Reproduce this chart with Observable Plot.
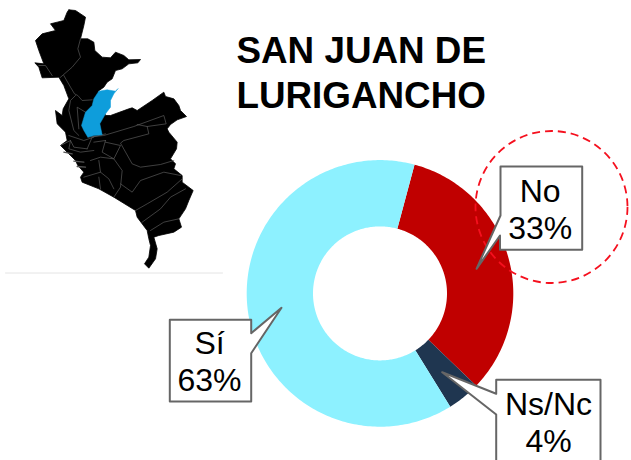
<!DOCTYPE html>
<html><head><meta charset="utf-8">
<script src="https://cdn.jsdelivr.net/npm/d3@7"></script>
<script src="https://cdn.jsdelivr.net/npm/@observablehq/plot@0.6"></script>
<style>
html,body{margin:0;padding:0;background:#fff;overflow:hidden}
svg{display:block}
.soft{filter:blur(.6px)}
</style></head><body><div id="c"></div>
<script>
const categories = ["No","Ns/Nc","Sí"];
const percents = [33,4,63];
const sliceColors = ["#C00000","#1F3650","#8DF1FF"];
const startAngle = 15;
const titleLines = ["SAN JUAN DE","LURIGANCHO"];

// Callout boxes and labels (page pixels)
const labelLines = [["No","33%"],["Ns/Nc","4%"],["Sí","63%"]];
const calloutShapes = [
  [[500,166],[581.7,166],[581.7,249.3],[499.5,249.3],[499.5,235],[476,268.3],[500,215]],
  [[495.7,379.3],[600,379.3],[600,470],[495.7,470],[495.7,414],[441.7,371.7],[495.7,393.3]],
  [[169.3,319.3],[250.7,319.3],[250.7,332.7],[281,307.3],[250.7,352.7],[250.7,401],[169.3,401]]
];
const labelPos = [[539.7,201,238.3],[548,414,451],[209,353,390]];

// Map of Lima region (zoomed 3x coordinates)
const mapOutline = [[205,28],[225,30],[255,50],[250,75],[240,115],[262,115],[280,125],[283,150],[305,170],[330,172],[345,155],[370,165],[385,178],[420,177],[412,187],[385,190],[365,205],[345,210],[335,235],[320,245],[310,260],[293,272],[315,345],[330,345],[385,325],[395,322],[410,330],[455,300],[490,275],[495,288],[520,295],[535,315],[540,330],[558,348],[530,358],[510,372],[500,385],[505,395],[530,425],[528,445],[510,475],[525,490],[520,505],[545,525],[545,545],[578,570],[565,600],[555,625],[535,655],[543,680],[520,695],[475,705],[460,710],[470,745],[465,775],[445,803],[432,790],[445,770],[450,735],[445,715],[440,690],[410,650],[405,630],[340,590],[295,565],[245,545],[240,530],[250,515],[232,495],[225,480],[200,455],[180,435],[200,420],[195,395],[170,370],[165,330],[185,345],[188,325],[205,295],[190,255],[175,230],[125,232],[115,200],[103,187],[130,190],[115,150],[105,120],[125,100],[165,90],[150,70],[170,65],[190,60],[200,35]];
const mapHighlight = [[352,265],[345,272],[320,268],[295,272],[280,295],[275,315],[255,335],[243,375],[250,390],[262,410],[280,405],[305,403],[298,370],[315,340],[330,320],[330,300],[340,280]];
const mapBorders = [
 [[240,115],[232,145],[240,170],[215,200],[178,232]],
 [[190,225],[210,260],[222,280],[232,285],[245,300],[275,298]],
 [[115,195],[135,195],[155,225]],
 [[225,285],[210,300],[205,330],[220,390],[235,405]],
 [[255,335],[230,320],[235,385]],
 [[262,410],[310,405],[400,378],[490,345],[497,370],[440,378],[410,372]],
 [[440,378],[445,400],[370,420],[360,428],[395,490],[420,500],[480,492],[520,480]],
 [[205,405],[250,420],[280,410]],
 [[180,435],[210,420],[220,440],[260,445]],
 [[210,420],[205,445],[240,455],[280,450]],
 [[260,445],[275,410],[315,400]],
 [[280,425],[315,420]],
 [[315,420],[305,455],[340,475],[360,435],[315,425]],
 [[270,480],[300,470],[340,475],[365,510],[360,560],[340,590]],
 [[250,530],[300,515],[325,535],[340,565]],
 [[300,515],[295,480]],
 [[295,530],[300,565]],
 [[360,550],[395,575],[420,540],[490,515],[540,525]],
 [[405,630],[440,610],[500,575],[545,535]],
 [[425,665],[480,625],[510,590],[555,565]],
 [[450,690],[490,665],[535,655]]
];
const mapCoastMarks = [
 [[190,455],[215,460]],
 [[220,482],[250,485]],
 [[230,498],[255,500]]
];

const cx = 380, cy = 293.4, rOuter = 133.3, rInner = 67;
const toPage = ([x,y]) => ({x:x/3,y:y/3});

let cum = 0;
const ring = [];
percents.forEach((p,i)=>{
  const a0 = startAngle + cum*3.6, a1 = startAngle + (cum+p)*3.6;
  const n = Math.ceil(a1-a0);
  for(let k=0;k<=n;k++){
    const a = (a0+(a1-a0)*k/n)*Math.PI/180;
    ring.push({cat:categories[i],
      x1:cx+rInner*Math.sin(a),y1:cy-rInner*Math.cos(a),
      x2:cx+rOuter*Math.sin(a),y2:cy-rOuter*Math.cos(a)});
  }
  cum += p;
});

const closed = pts => [...pts,pts[0]].map(([x,y])=>({x,y}));
const calloutData = calloutShapes.flatMap((s,i)=>closed(s).map(d=>({...d,i})));
const flatten = list => list.flatMap((s,i)=>s.map(p=>({...toPage(p),i})));
const labelData = labelLines.flatMap((l,i)=>l.map((t,j)=>({t,x:labelPos[i][0],y:labelPos[i][j+1]})));
const titleData = titleLines.map((t,i)=>({t,x:236,y:[62.7,107.5][i]}));

const chart = Plot.plot({
  width:631,height:460,margin:0,
  x:{domain:[0,631],range:[0,631],axis:null},
  y:{domain:[0,460],range:[0,460],axis:null},
  color:{domain:categories,range:sliceColors},
  style:{background:"#fff",overflow:"hidden"},
  marks:[
    Plot.line([{x:5,y:272.5},{x:222,y:272.5}],{x:"x",y:"y",stroke:"#e4e4e4",strokeWidth:1}),
    Plot.line([...mapOutline,mapOutline[0]].map(toPage),{x:"x",y:"y",fill:"#000",stroke:"#000",strokeWidth:.8,className:"soft"}),
    Plot.line(flatten(mapBorders),{x:"x",y:"y",z:"i",stroke:"#5a5a5a",strokeWidth:.7,className:"soft"}),
    Plot.line(flatten(mapCoastMarks),{x:"x",y:"y",z:"i",stroke:"#555",strokeWidth:1.3,className:"soft"}),
    Plot.line([...mapHighlight,mapHighlight[0]].map(toPage),{x:"x",y:"y",fill:"#0E9DDB",stroke:"#0E9DDB",strokeWidth:.5,className:"soft"}),
    Plot.area(ring,{x1:"x1",y1:"y1",x2:"x2",y2:"y2",z:"cat",fill:"cat"}),
    Plot.dot([{x:551,y:206.5}],{x:"x",y:"y",r:76,fill:"none",stroke:"#F5101E",strokeWidth:1.8,strokeDasharray:"8,5"}),
    Plot.line(calloutData,{x:"x",y:"y",z:"i",fill:"#fff",stroke:"#666",strokeWidth:2}),
    Plot.text(labelData,{x:"x",y:"y",text:"t",lineAnchor:"bottom",textAnchor:"middle",fontSize:32,fontFamily:"Liberation Sans",fill:"#000"}),
    Plot.text(titleData,{x:"x",y:"y",text:"t",lineAnchor:"bottom",textAnchor:"start",fontSize:36.8,fontWeight:"bold",fontFamily:"Liberation Sans",fill:"#000"})
  ]
});
document.getElementById("c").appendChild(chart);
</script></body></html>
